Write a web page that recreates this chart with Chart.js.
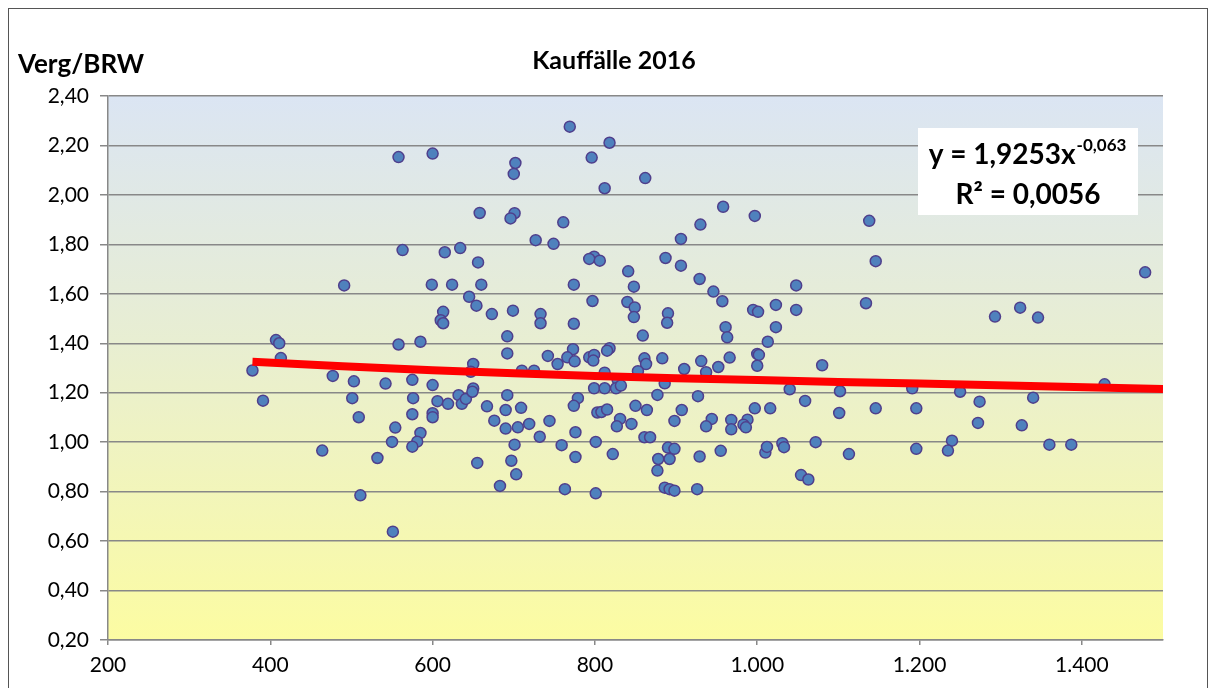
<!DOCTYPE html>
<html lang="de">
<head>
  <meta charset="UTF-8" />
  <title>Kauffälle 2016</title>
  <script src="https://cdn.jsdelivr.net/npm/chart.js"></script>
  <style>
    html, body { margin: 0; padding: 0; background: #fff; }
    #wrap { width: 1215px; height: 688px; }
  </style>
</head>
<body>
<div id="wrap"><canvas id="kaufChart" width="1215" height="688"></canvas></div>

<script>
  // Kauffälle 2016 - Kaufpreis (x) gegen Verg/BRW (y)
  const kaufX = [
    378,391,407,411,413,464,477,491,501,503,509,511,532,542,550,551,554,558,558,563,
    600,702,700,658,701,696,727,615,634,656,599,624,660,645,654,613,610,613,673,699,692,585,
    769,818,796,862,812,761,749,799,793,806,887,841,774,848,797,840,849,848,733,733,774,859,890,889,
    958,997,930,906,906,929,946,957,1048,995,1001,1023,1048,961,963,1023,1013,
    1138,1146,1134,
    1478,1293,1324,1346,
    1428,1250,1274,1340,1272,1326,1360,1387,1240,1235,
    1080,1040,1102,1191,1059,1101,1146,1196,1031,1033,1072,1113,1196,1054,1063,
    883,910,931,937,952,966,1000,1002,1000,886,877,927,907,898,944,937,968,968,988,983,986,997,1016,890,898,878,892,877,929,955,1010,1012,886,892,898,926,
    773,818,815,742,754,766,775,793,799,798,861,863,853,725,812,828,799,812,826,832,779,774,803,808,815,850,864,719,744,831,827,845,732,776,801,759,861,868,776,822,763,801,
    692,650,647,710,575,600,576,606,619,632,636,641,650,649,692,667,690,709,676,690,705,575,600,600,585,581,575,701,655,697,703,683
  ];
  const kaufY = [
    1.29,1.168,1.413,1.40,1.34,0.966,1.268,1.634,1.178,1.246,1.101,0.785,0.936,1.237,1.001,0.638,1.059,2.153,1.395,1.777,
    2.167,2.129,2.085,1.927,1.926,1.905,1.817,1.768,1.785,1.727,1.637,1.637,1.637,1.588,1.552,1.527,1.493,1.481,1.518,1.532,1.428,1.406,
    2.276,2.211,2.151,2.068,2.027,1.889,1.802,1.750,1.741,1.734,1.745,1.691,1.637,1.629,1.571,1.567,1.545,1.506,1.518,1.481,1.479,1.431,1.521,1.483,
    1.952,1.915,1.880,1.822,1.714,1.660,1.609,1.570,1.634,1.535,1.527,1.555,1.535,1.465,1.424,1.465,1.406,
    1.895,1.732,1.562,
    1.687,1.508,1.544,1.504,
    1.234,1.204,1.164,1.180,1.078,1.068,0.990,0.990,1.006,0.966,
    1.311,1.214,1.206,1.218,1.167,1.118,1.137,1.137,0.996,0.980,1.000,0.952,0.973,0.867,0.849,
    1.339,1.296,1.328,1.283,1.304,1.342,1.357,1.353,1.309,1.238,1.191,1.186,1.130,1.086,1.094,1.064,1.090,1.052,1.091,1.071,1.060,1.137,1.137,0.978,0.973,0.932,0.932,0.885,0.942,0.965,0.958,0.981,0.816,0.810,0.804,0.810,
    1.376,1.380,1.370,1.349,1.316,1.343,1.327,1.343,1.353,1.330,1.339,1.316,1.287,1.289,1.281,1.252,1.218,1.218,1.218,1.229,1.178,1.147,1.120,1.122,1.132,1.147,1.130,1.074,1.086,1.094,1.064,1.074,1.022,1.040,1.001,0.988,1.020,1.020,0.940,0.952,0.810,0.793,
    1.359,1.316,1.285,1.289,1.252,1.231,1.178,1.166,1.155,1.190,1.155,1.175,1.217,1.204,1.190,1.145,1.130,1.139,1.087,1.055,1.060,1.113,1.117,1.101,1.037,1.002,0.982,0.990,0.916,0.925,0.870,0.823
  ];

  // Trendlinie (Potenz)
  const trendX = [378, 600, 800, 1000, 1200, 1500];
  const trendY = [1.325, 1.291, 1.268, 1.251, 1.237, 1.215];

  const xTicks = [200, 400, 600, 800, 1000, 1200, 1400];
  const yTicks = [0.2, 0.4, 0.6, 0.8, 1.0, 1.2, 1.4, 1.6, 1.8, 2.0, 2.2, 2.4];

  const FONT = 'Lato, "Open Sans", sans-serif';

  function fmtThousand(v) {
    return String(v).replace(/\B(?=(\d{3})+(?!\d))/g, '.');
  }

  const punkte = kaufX.map((x, i) => ({ x: x, y: kaufY[i] }));
  const trend = trendX.map((x, i) => ({ x: x, y: trendY[i] }));

  // Hintergrund, Rahmen, Titel und Formelbox
  const deko = {
    id: 'deko',
    beforeDraw(chart) {
      const { ctx, chartArea: a } = chart;
      ctx.save();
      const g = ctx.createLinearGradient(0, a.top, 0, a.bottom);
      g.addColorStop(0, '#dbe5f3');
      g.addColorStop(0.45, '#e8eed2');
      g.addColorStop(1, '#fcfca2');
      ctx.fillStyle = g;
      ctx.fillRect(a.left, a.top, a.right - a.left, a.bottom - a.top);
      ctx.restore();
    },
    afterDraw(chart) {
      const ctx = chart.ctx;
      ctx.save();
      // Rahmen ums Diagramm
      ctx.strokeStyle = '#555';
      ctx.lineWidth = 1;
      ctx.strokeRect(8.5, 8.5, 1199, 700);

      ctx.fillStyle = '#000';
      ctx.textBaseline = 'alphabetic';
      ctx.font = 'bold 26px ' + FONT;
      ctx.textAlign = 'left';
      ctx.fillText('Verg/BRW', 18, 73);

      ctx.font = 'bold 25px ' + FONT;
      ctx.textAlign = 'center';
      ctx.fillText('Kauffälle 2016', 614, 69);

      // Formelbox
      ctx.fillStyle = '#fff';
      ctx.fillRect(918, 128, 220, 87);
      ctx.fillStyle = '#000';
      const main = 'y = 1,9253x';
      const sup = '-0,063';
      ctx.font = 'bold 28px ' + FONT;
      const w1 = ctx.measureText(main).width;
      ctx.font = 'bold 17px ' + FONT;
      const w2 = ctx.measureText(sup).width;
      const x0 = 1027 - (w1 + w2) / 2;
      ctx.textAlign = 'left';
      ctx.font = 'bold 28px ' + FONT;
      ctx.fillText(main, x0, 164);
      ctx.font = 'bold 17px ' + FONT;
      ctx.fillText(sup, x0 + w1 + 1, 151);
      ctx.font = 'bold 28px ' + FONT;
      ctx.textAlign = 'center';
      ctx.fillText('R² = 0,0056', 1028, 204);
      ctx.restore();
    }
  };

  new Chart(document.getElementById('kaufChart'), {
    type: 'scatter',
    data: {
      datasets: [
        {
          label: 'Trend',
          data: trend,
          showLine: true,
          borderColor: '#ff0000',
          borderWidth: 8,
          pointRadius: 0,
          tension: 0.4,
          order: 0
        },
        {
          label: 'Kauffälle',
          data: punkte,
          backgroundColor: '#4f81bd',
          borderColor: '#4f3f8c',
          borderWidth: 1.5,
          pointRadius: 5.5,
          order: 1
        }
      ]
    },
    options: {
      responsive: false,
      animation: false,
      layout: { padding: { left: 0, top: 96, right: 52, bottom: 0 } },
      plugins: {
        legend: { display: false },
        tooltip: { enabled: false },
        title: { display: false }
      },
      scales: {
        x: {
          type: 'linear',
          min: 200,
          max: 1500,
          afterBuildTicks: s => { s.ticks = xTicks.map(v => ({ value: v })); },
          afterFit: s => { s.height = 48; },
          grid: { display: true, drawOnChartArea: false, color: '#888', lineWidth: 1.5, tickLength: 5 },
          border: { display: true, color: '#888', width: 1.5 },
          ticks: {
            color: '#000',
            padding: 8,
            font: { family: FONT, size: 21 },
            maxRotation: 0,
            callback: v => fmtThousand(v)
          }
        },
        y: {
          min: 0.2,
          max: 2.4,
          afterBuildTicks: s => { s.ticks = yTicks.map(v => ({ value: v })); },
          afterFit: s => { s.width = 108; },
          grid: { color: '#888', lineWidth: 1.5, tickLength: 8 },
          border: { display: true, color: '#888', width: 1.5 },
          ticks: {
            color: '#000',
            padding: 11,
            font: { family: FONT, size: 21 },
            callback: v => v.toFixed(2).replace('.', ',')
          }
        }
      }
    },
    plugins: [deko]
  });
</script>
</body>
</html>
